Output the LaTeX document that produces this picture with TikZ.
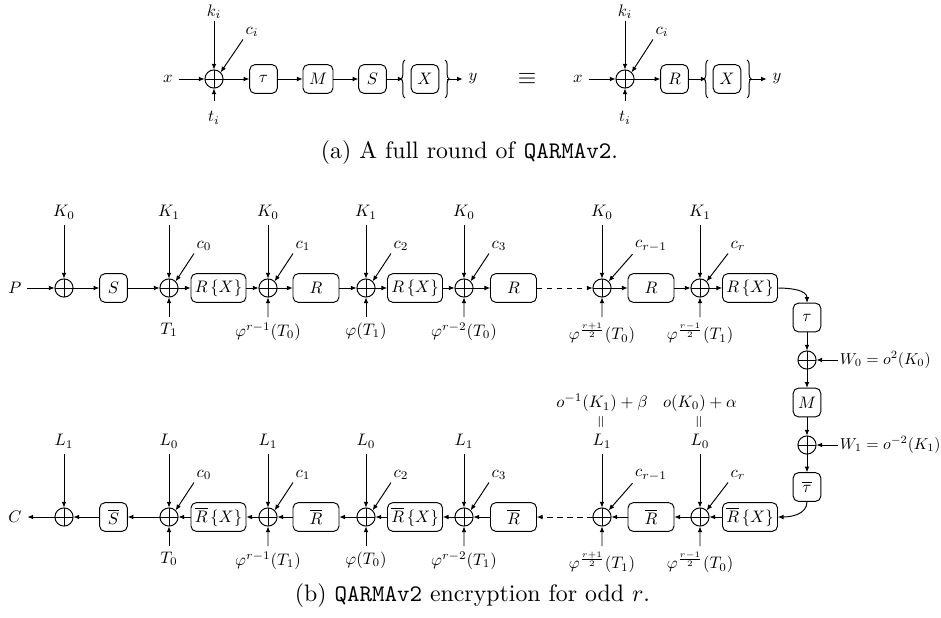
\documentclass[tikz,border=0pt]{standalone}
\usepackage{amsmath,amssymb}
\usepackage{tikz}
\usetikzlibrary{arrows.meta,decorations.pathreplacing}

\tikzset{
  lab/.style={scale=0.7},
  xor/.style={lab,draw,circle,minimum size=10.9pt,inner sep=0pt,
    path picture={\draw (path picture bounding box.north) -- (path picture bounding box.south)
      (path picture bounding box.west) -- (path picture bounding box.east);}},
  rnd/.style={lab,draw,rounded corners=2.2pt,minimum height=17.2pt,minimum width=16.6pt,inner sep=2pt},
  cst/.style={lab,inner sep=1.4pt},
  brc/.style={decorate,decoration={brace,amplitude=1.8pt}}
}

\begin{document}
\begin{tikzpicture}[x=0.42pt,y=-0.42pt,>={Latex[length=2.4pt,width=2pt]}]
\useasboundingbox (0,0) rectangle (941,617);
\node[lab] (ain) at (168,79) {$x$};
\node[xor] (aor) at (214,79) {};
\node[lab,anchor=south,inner sep=1pt] (akey) at (214,21) {$k_i$};
\node[lab,anchor=north,inner sep=6pt] (atwk) at (214,101) {$t_i$};
\node[cst] (acst) at (252,32) {$c_i$};
\node[rnd] (atau) at (263.5,79) {$\tau$};
\node[rnd,minimum width=18pt] (amix) at (318,79) {$M$};
\node[rnd] (asb) at (372.5,79) {$S$};
\node[rnd] (aX) at (425,79) {$X$};
\draw[brc] (405,98) -- (405,60);
\draw[brc] (445,60) -- (445,98);
\coordinate (abl) at (403.5,79);
\coordinate (abr) at (446.5,79);
\node[lab] (aout) at (473,79) {$y$};
\draw[->] (ain) -- (aor);
\draw[->] (akey) -- (aor);
\draw[->] (atwk) -- (aor);
\draw[->] (acst.south west) -- (aor.north east);
\draw[->] (aor) -- (atau);
\draw[->] (atau) -- (amix);
\draw[->] (amix) -- (asb);
\draw[->] (asb) -- (abl);
\draw[->] (abr) -- (aout);
\node (equiv) at (527,79) {$\equiv$};
\node[lab] (bin) at (578,79) {$x$};
\node[xor] (bor) at (625,79) {};
\node[lab,anchor=south,inner sep=1pt] (bkey) at (625,21) {$k_i$};
\node[lab,anchor=north,inner sep=6pt] (btwk) at (625,101) {$t_i$};
\node[cst] (bcst) at (662,32) {$c_i$};
\node[rnd] (brnd) at (674.5,79) {$R$};
\node[rnd] (bX) at (727,79) {$X$};
\draw[brc] (708,98) -- (708,60);
\draw[brc] (747,60) -- (747,98);
\coordinate (bbl) at (706.5,79);
\coordinate (bbr) at (748.5,79);
\node[lab] (bout) at (777,79) {$y$};
\draw[->] (bin) -- (bor);
\draw[->] (bkey) -- (bor);
\draw[->] (btwk) -- (bor);
\draw[->] (bcst.south west) -- (bor.north east);
\draw[->] (bor) -- (brnd);
\draw[->] (brnd) -- (bbl);
\draw[->] (bbr) -- (bout);
\node (capa) at (469.5,153) {(a) A full round of \texttt{QARMAv2}.};
\node[lab] (P) at (15,288) {$P$};
\node[xor] (e0) at (64,288) {};
\node[lab,anchor=south] (ek0) at (64,225) {$K_0$};
\node[rnd] (es) at (113.5,288) {$S$};
\node[xor] (e1) at (169,288) {};
\node[lab,anchor=south] (ek1) at (169,225) {$K_1$};
\node[lab,anchor=north] (et1) at (169,317) {$T_1$};
\node[cst] (ec1) at (204,246) {$c_0$};
\node[rnd,minimum width=33pt] (er1) at (218.5,288) {$R\,\{X\}$};
\node[xor] (e2) at (268,288) {};
\node[lab,anchor=south] (ek2) at (268,225) {$K_0$};
\node[lab,anchor=north] (et2) at (268,317) {$\varphi^{r-1}(T_0)$};
\node[cst] (ec2) at (303,246) {$c_1$};
\node[rnd,minimum width=27.6pt] (er2) at (316,288) {$R$};
\node[xor] (e3) at (366,288) {};
\node[lab,anchor=south] (ek3) at (366,225) {$K_1$};
\node[lab,anchor=north] (et3) at (366,317) {$\varphi(T_1)$};
\node[cst] (ec3) at (401,246) {$c_2$};
\node[rnd,minimum width=33pt] (er3) at (415,288) {$R\,\{X\}$};
\node[xor] (e4) at (464,288) {};
\node[lab,anchor=south] (ek4) at (464,225) {$K_0$};
\node[lab,anchor=north] (et4) at (464,317) {$\varphi^{r-2}(T_0)$};
\node[cst] (ec4) at (499,246) {$c_3$};
\node[rnd,minimum width=27.6pt] (er4) at (513.5,288) {$R$};
\node[xor] (e5) at (602,288) {};
\node[lab,anchor=south] (ek5) at (602,225) {$K_0$};
\node[lab,anchor=north] (et5) at (602,317) {$\varphi^{\frac{r+1}{2}}(T_0)$};
\node[cst] (ec5) at (651,246) {$c_{r-1}$};
\node[rnd,minimum width=27.6pt] (er5) at (651,288) {$R$};
\node[xor] (e6) at (700,288) {};
\node[lab,anchor=south] (ek6) at (700,225) {$K_1$};
\node[lab,anchor=north] (et6) at (700,317) {$\varphi^{\frac{r-1}{2}}(T_1)$};
\node[cst] (ec6) at (738,246) {$c_r$};
\node[rnd,minimum width=33pt] (er6) at (750,288) {$R\,\{X\}$};
\node[rnd] (tau) at (807,317.5) {$\tau$};
\node[xor] (w0x) at (807,360) {};
\node[lab,scale=0.95,anchor=west,inner sep=1pt] (w0) at (838,360) {$W_0=o^2(K_0)$};
\node[rnd] (mix) at (807,402.5) {$M$};
\node[xor] (w1x) at (807,445) {};
\node[lab,scale=0.95,anchor=west,inner sep=1pt] (w1) at (838,445) {$W_1=o^{-2}(K_1)$};
\node[rnd] (taub) at (807,487) {$\overline{\tau}$};
\node[lab] (C) at (15,517) {$C$};
\node[xor] (d0) at (64,517) {};
\node[lab,anchor=south] (dk0) at (64,454) {$L_1$};
\node[rnd] (ds) at (113.5,517) {$\overline{S}$};
\node[xor] (d1) at (169,517) {};
\node[lab,anchor=south] (dk1) at (169,454) {$L_0$};
\node[lab,anchor=north] (dt1) at (169,546) {$T_0$};
\node[cst] (dc1) at (204,475) {$c_0$};
\node[rnd,minimum width=33pt] (dr1) at (218.5,517) {$\overline{R}\,\{X\}$};
\node[xor] (d2) at (268,517) {};
\node[lab,anchor=south] (dk2) at (268,454) {$L_1$};
\node[lab,anchor=north] (dt2) at (268,546) {$\varphi^{r-1}(T_1)$};
\node[cst] (dc2) at (303,475) {$c_1$};
\node[rnd,minimum width=27.6pt] (dr2) at (316,517) {$\overline{R}$};
\node[xor] (d3) at (366,517) {};
\node[lab,anchor=south] (dk3) at (366,454) {$L_0$};
\node[lab,anchor=north] (dt3) at (366,546) {$\varphi(T_0)$};
\node[cst] (dc3) at (401,475) {$c_2$};
\node[rnd,minimum width=33pt] (dr3) at (415,517) {$\overline{R}\,\{X\}$};
\node[xor] (d4) at (464,517) {};
\node[lab,anchor=south] (dk4) at (464,454) {$L_1$};
\node[lab,anchor=north] (dt4) at (464,546) {$\varphi^{r-2}(T_1)$};
\node[cst] (dc4) at (499,475) {$c_3$};
\node[rnd,minimum width=27.6pt] (dr4) at (513.5,517) {$\overline{R}$};
\node[xor] (d5) at (602,517) {};
\node[lab,anchor=south] (dk5) at (602,454) {$L_1$};
\node[lab,rotate=90] (dq5) at (602,422) {$=$};
\node[lab] (do5) at (602,403) {$o^{-1}(K_1)+\beta$};
\node[lab,anchor=north] (dt5) at (602,546) {$\varphi^{\frac{r+1}{2}}(T_1)$};
\node[cst] (dc5) at (651,475) {$c_{r-1}$};
\node[rnd,minimum width=27.6pt] (dr5) at (651,517) {$\overline{R}$};
\node[xor] (d6) at (700,517) {};
\node[lab,anchor=south] (dk6) at (700,454) {$L_0$};
\node[lab,rotate=90] (dq6) at (700,422) {$=$};
\node[lab] (do6) at (700,403) {$o(K_0)+\alpha$};
\node[lab,anchor=north] (dt6) at (700,546) {$\varphi^{\frac{r-1}{2}}(T_0)$};
\node[cst] (dc6) at (738,475) {$c_r$};
\node[rnd,minimum width=33pt] (dr6) at (750,517) {$\overline{R}\,\{X\}$};
\draw[->] (P) -- (e0);
\draw[->] (ek0) -- (e0);
\draw[->] (e0) -- (es);
\draw[->] (es) -- (e1);
\draw[->] (ek1) -- (e1);
\draw[->] (et1) -- (e1);
\draw[->] (ec1.south west) -- (e1.north east);
\draw[->] (e1) -- (er1);
\draw[->] (er1) -- (e2);
\draw[->] (ek2) -- (e2);
\draw[->] (et2) -- (e2);
\draw[->] (ec2.south west) -- (e2.north east);
\draw[->] (e2) -- (er2);
\draw[->] (er2) -- (e3);
\draw[->] (ek3) -- (e3);
\draw[->] (et3) -- (e3);
\draw[->] (ec3.south west) -- (e3.north east);
\draw[->] (e3) -- (er3);
\draw[->] (er3) -- (e4);
\draw[->] (ek4) -- (e4);
\draw[->] (et4) -- (e4);
\draw[->] (ec4.south west) -- (e4.north east);
\draw[->] (e4) -- (er4);
\draw[->,dash pattern=on 2.2pt off 2pt] (er4) -- (e5);
\draw[->] (ek5) -- (e5);
\draw[->] (et5) -- (e5);
\draw[->] (ec5.south west) -- (e5.north east);
\draw[->] (e5) -- (er5);
\draw[->] (er5) -- (e6);
\draw[->] (ek6) -- (e6);
\draw[->] (et6) -- (e6);
\draw[->] (ec6.south west) -- (e6.north east);
\draw[->] (e6) -- (er6);
\draw[->] (er6.east) to[out=0,in=90] (tau.north);
\draw[->] (tau) -- (w0x);
\draw[->] (w0) -- (w0x);
\draw[->] (w0x) -- (mix);
\draw[->] (mix) -- (w1x);
\draw[->] (w1) -- (w1x);
\draw[->] (w1x) -- (taub);
\draw[->] (taub.south) to[out=-90,in=0] (dr6.east);
\draw[->] (dr6) -- (d6);
\draw[->] (dk6) -- (d6);
\draw[->] (dt6) -- (d6);
\draw[->] (dc6.south west) -- (d6.north east);
\draw[->] (d6) -- (dr5);
\draw[->] (dr5) -- (d5);
\draw[->] (dk5) -- (d5);
\draw[->] (dt5) -- (d5);
\draw[->] (dc5.south west) -- (d5.north east);
\draw[->,dash pattern=on 2.2pt off 2pt] (d5) -- (dr4);
\draw[->] (dr4) -- (d4);
\draw[->] (dk4) -- (d4);
\draw[->] (dt4) -- (d4);
\draw[->] (dc4.south west) -- (d4.north east);
\draw[->] (d4) -- (dr3);
\draw[->] (dr3) -- (d3);
\draw[->] (dk3) -- (d3);
\draw[->] (dt3) -- (d3);
\draw[->] (dc3.south west) -- (d3.north east);
\draw[->] (d3) -- (dr2);
\draw[->] (dr2) -- (d2);
\draw[->] (dk2) -- (d2);
\draw[->] (dt2) -- (d2);
\draw[->] (dc2.south west) -- (d2.north east);
\draw[->] (d2) -- (dr1);
\draw[->] (dr1) -- (d1);
\draw[->] (dk1) -- (d1);
\draw[->] (dt1) -- (d1);
\draw[->] (dc1.south west) -- (d1.north east);
\draw[->] (d1) -- (ds);
\draw[->] (ds) -- (d0);
\draw[->] (dk0) -- (d0);
\draw[->] (d0) -- (C);
\node (capb) at (472.5,596) {(b) \texttt{QARMAv2} encryption for odd $r$.};
\end{tikzpicture}
\end{document}
